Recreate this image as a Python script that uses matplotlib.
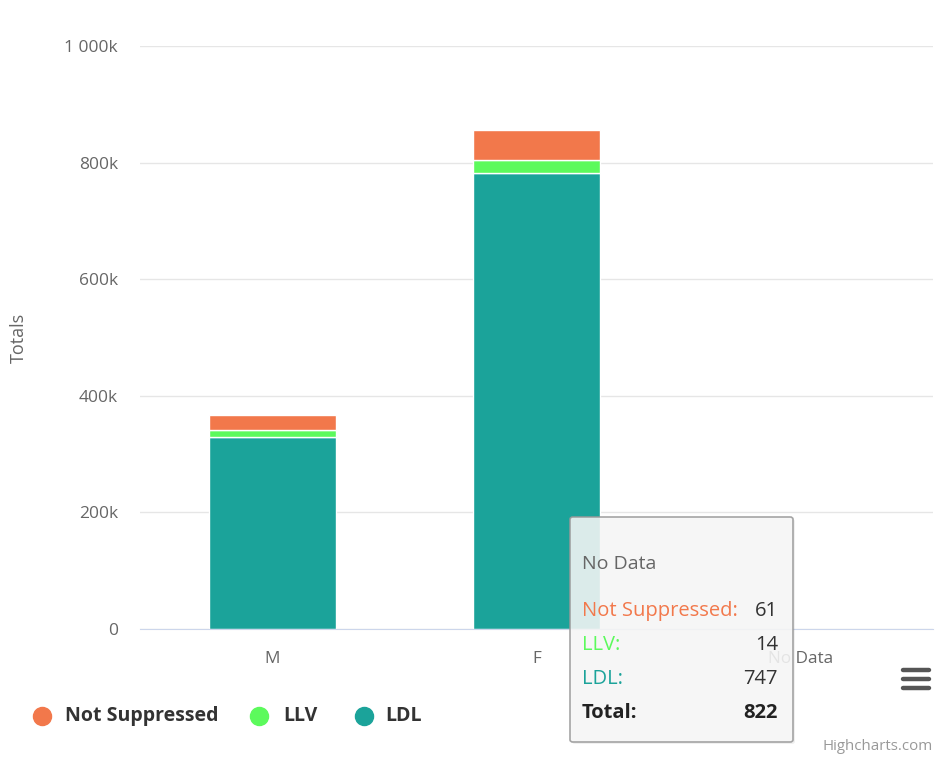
import numpy as np
import matplotlib.pyplot as plt
from matplotlib.lines import Line2D
from matplotlib.patches import FancyBboxPatch

plt.rcParams['font.family'] = ['Open Sans', 'DejaVu Sans']

categories = ['M', 'F', 'No Data']
ldl = [330000, 783000, 747]
llv = [12000, 22000, 14]
not_suppressed = [25000, 51000, 61]

series = [('LDL', ldl, '#1ba39a'),
          ('LLV', llv, '#5cfa5c'),
          ('Not Suppressed', not_suppressed, '#f2784b')]

W, H = 948, 764
fig = plt.figure(figsize=(W / 100, H / 100), dpi=100)
ax = fig.add_axes([140 / W, 1 - 629 / H, (933 - 140) / W, (629 - 46) / H])

x = np.arange(len(categories))
bottom = np.zeros(len(categories))
for name, vals, color in series:
    ax.bar(x, vals, bottom=bottom, width=0.48, color=color,
           edgecolor='white', linewidth=1, zorder=2)
    bottom += np.array(vals)

ax.set_xlim(-0.5, len(categories) - 0.5)
ax.set_ylim(0, 1000000)
yticks = np.arange(0, 1000001, 200000)
ax.set_yticks(yticks)
ax.set_yticklabels(['0', '200k', '400k', '600k', '800k', '1 000k'])
ax.yaxis.grid(True, color='#e6e6e6', linewidth=1, zorder=0)
ax.set_xticks(x)
ax.set_xticklabels(categories)
ax.tick_params(axis='y', length=0, pad=16, labelsize=12.5, labelcolor='#666666')
ax.tick_params(axis='x', length=0, pad=15.5, labelsize=12.3, labelcolor='#666666')
for s in ['top', 'right', 'left']:
    ax.spines[s].set_visible(False)
ax.spines['bottom'].set_color('#ccd6eb')
ax.set_ylabel('Totals', fontsize=13, color='#666666')
ax.yaxis.set_label_coords((28 - 140) / (933 - 140), (629 - 338) / (629 - 46))

# legend along the bottom
legend_x = [(42, 65), (259, 283), (364, 385)]
ly = 1 - 716 / H
for (cx, tx), (name, _, c) in zip(legend_x, series[::-1]):
    fig.add_artist(Line2D([cx / W], [ly], marker='o', markersize=13,
                          markerfacecolor=c, markeredgecolor=c, linestyle='none'))
    fig.text(tx / W, ly, name, fontsize=14, weight='bold', color='#333333',
             va='center')

# tooltip for the hovered category
k = 2
shadow = FancyBboxPatch((572 / W, 1 - 744 / H), (793 - 570) / W, (742 - 517) / H,
                        boxstyle='round,pad=0,rounding_size=0.003',
                        transform=fig.transFigure, facecolor='#000000', alpha=0.06,
                        edgecolor='none', zorder=4)
fig.patches.append(shadow)
tip = FancyBboxPatch((570 / W, 1 - 742 / H), (793 - 570) / W, (742 - 517) / H,
                     boxstyle='round,pad=0,rounding_size=0.003',
                     transform=fig.transFigure, facecolor='#f7f7f7', alpha=0.88,
                     edgecolor='#999999', linewidth=1.2, zorder=5)
fig.patches.append(tip)
fig.text(582 / W, 1 - 564 / H, categories[k], fontsize=14, color='#666666',
         va='center', zorder=6)
rows = [('Not Suppressed:', not_suppressed[k], '#f2784b'),
        ('LLV:', llv[k], '#5cfa5c'),
        ('LDL:', ldl[k], '#1ba39a')]
for i, (lab, v, c) in enumerate(rows):
    yy = 1 - (611 + 34 * i) / H
    fig.text(582 / W, yy, lab, fontsize=14.5, color=c, va='center', zorder=6)
    fig.text(778 / W, yy, f'{v}', fontsize=14.5, color='#333333', va='center',
             ha='right', zorder=6)
total = not_suppressed[k] + llv[k] + ldl[k]
fig.text(582 / W, 1 - 713 / H, 'Total:', fontsize=14.5, color='#222222',
         va='center', weight='bold', zorder=6)
fig.text(778 / W, 1 - 713 / H, f'{total}', fontsize=14.5, color='#222222',
         va='center', ha='right', weight='bold', zorder=6)

# context menu icon
for yy in (670, 679, 688):
    fig.add_artist(Line2D([903 / W, 929 / W], [1 - yy / H, 1 - yy / H],
                          color='#555555', linewidth=3.2, solid_capstyle='round'))

fig.text(933 / W, 1 - 747 / H, 'Highcharts.com', fontsize=10.8, color='#999999',
         ha='right', va='center')

fig.savefig('out.png', dpi=100)
